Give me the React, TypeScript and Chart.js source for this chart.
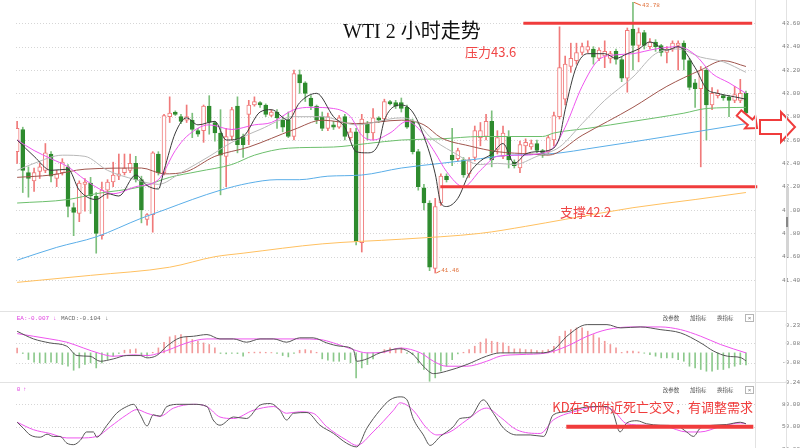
import { useEffect, useRef } from "react";
import { Chart, registerables } from "chart.js";

Chart.register(...registerables);

// ---------- candle data (2h bars) ----------
const opens = [
  42.50, 42.69, 42.32, 42.25, 42.33, 42.34, 42.48, 42.27, 42.32, 42.37,
  42.02, 41.97, 42.22, 42.23, 42.12, 41.78, 42.17, 42.24, 42.29, 42.32,
  42.34, 42.40, 42.26, 41.92, 41.96, 42.48, 42.32, 42.80, 42.84, 42.80,
  42.77, 42.77, 42.68, 42.68, 42.89, 42.75, 42.66, 42.46, 42.63, 42.89,
  42.63, 42.82, 42.90, 42.92, 42.90, 42.81, 42.84, 42.77, 42.77, 42.63,
  43.16, 43.09, 42.96, 42.89, 42.80, 42.70, 42.73, 42.71, 42.80, 42.62,
  42.67, 41.72, 42.74, 42.66, 42.79, 42.78, 42.93, 42.92, 42.92, 42.88,
  42.76, 42.50, 42.19, 42.06, 41.50, 42.06, 42.29, 42.47, 42.44, 42.43,
  42.31, 42.45, 42.62, 42.63, 42.76, 42.52, 42.46, 42.63, 42.41, 42.36,
  42.55, 42.54, 42.57, 42.51, 42.50, 42.60, 42.80, 42.95, 43.23, 43.28,
  43.35, 43.37, 43.38, 43.30, 43.32, 43.30, 43.36, 43.29, 43.13, 43.55,
  43.41, 43.52, 43.40, 43.44, 43.41, 43.35, 43.38, 43.41, 43.43, 43.28,
  43.09, 43.04, 43.20, 42.90, 42.98, 42.98, 42.97, 42.94, 42.94, 43.00,
];
const highs = [
  42.76, 42.71, 42.37, 42.36, 42.40, 42.57, 42.50, 42.34, 42.44, 42.39,
  42.06, 42.25, 42.27, 42.28, 42.15, 42.24, 42.26, 42.41, 42.48, 42.48,
  42.48, 42.46, 42.29, 41.97, 42.50, 42.50, 42.82, 42.97, 42.85, 42.82,
  42.90, 42.83, 42.70, 42.90, 42.98, 42.76, 42.86, 42.70, 42.88, 42.97,
  42.65, 42.94, 42.97, 42.93, 42.91, 42.86, 42.86, 42.80, 42.84, 43.20,
  43.20, 43.10, 42.98, 42.90, 42.84, 42.83, 42.76, 42.81, 42.82, 42.70,
  42.70, 42.82, 42.76, 42.87, 42.80, 42.95, 42.94, 42.94, 42.96, 42.90,
  42.78, 42.52, 42.22, 42.08, 42.10, 42.31, 42.31, 42.70, 42.53, 42.45,
  42.45, 42.72, 42.75, 42.82, 42.85, 42.68, 42.72, 42.68, 42.43, 42.59,
  42.61, 42.60, 42.60, 42.52, 42.64, 42.84, 43.57, 43.32, 43.43, 43.43,
  43.43, 43.45, 43.40, 43.39, 43.45, 43.36, 43.38, 43.31, 43.56, 43.78,
  43.56, 43.54, 43.47, 43.46, 43.42, 43.40, 43.45, 43.45, 43.45, 43.30,
  43.12, 43.23, 43.22, 43.05, 43.03, 42.99, 42.98, 43.06, 43.12, 43.02,
];
const lows = [
  42.40, 42.15, 42.11, 42.16, 42.27, 42.32, 42.24, 42.20, 42.30, 41.94,
  41.78, 41.90, 41.99, 41.97, 41.63, 41.75, 42.10, 42.20, 42.26, 42.30,
  42.32, 42.24, 41.89, 41.87, 41.81, 42.30, 42.30, 42.75, 42.81, 42.74,
  42.75, 42.62, 42.63, 42.58, 42.65, 42.59, 42.13, 42.20, 42.60, 42.49,
  42.45, 42.56, 42.89, 42.88, 42.80, 42.80, 42.70, 42.67, 42.62, 42.60,
  43.00, 42.93, 42.86, 42.74, 42.68, 42.68, 42.69, 42.70, 42.60, 42.60,
  41.70, 41.64, 42.60, 42.60, 42.75, 42.76, 42.90, 42.87, 42.84, 42.70,
  42.48, 42.17, 42.00, 41.48, 41.46, 42.04, 42.24, 42.38, 42.42, 42.28,
  42.28, 42.42, 42.55, 42.60, 42.37, 42.48, 42.44, 42.36, 42.36, 42.32,
  42.48, 42.52, 42.49, 42.45, 42.48, 42.55, 42.78, 42.90, 43.18, 43.25,
  43.33, 43.35, 43.25, 43.28, 43.22, 43.26, 43.25, 43.10, 43.01, 43.20,
  43.27, 43.38, 43.38, 43.36, 43.32, 43.26, 43.36, 43.20, 43.20, 43.03,
  42.88, 42.37, 42.60, 42.86, 42.96, 42.94, 42.80, 42.92, 42.92, 42.80,
];
const closes = [
  42.70, 42.34, 42.27, 42.32, 42.37, 42.49, 42.29, 42.31, 42.41, 42.03,
  41.98, 42.23, 42.24, 42.12, 41.80, 42.17, 42.24, 42.30, 42.31, 42.36,
  42.40, 42.26, 42.00, 41.96, 42.49, 42.32, 42.81, 42.83, 42.82, 42.76,
  42.80, 42.69, 42.65, 42.89, 42.75, 42.66, 42.47, 42.63, 42.86, 42.56,
  42.56, 42.90, 42.93, 42.90, 42.82, 42.84, 42.79, 42.71, 42.63, 43.17,
  43.09, 43.00, 42.89, 42.77, 42.70, 42.80, 42.71, 42.79, 42.63, 42.67,
  41.73, 42.78, 42.66, 42.79, 42.77, 42.93, 42.91, 42.89, 42.87, 42.71,
  42.50, 42.20, 42.06, 41.51, 42.03, 42.29, 42.26, 42.43, 42.51, 42.30,
  42.43, 42.68, 42.68, 42.76, 42.43, 42.62, 42.66, 42.43, 42.38, 42.56,
  42.58, 42.57, 42.51, 42.47, 42.62, 42.81, 43.22, 43.25, 43.30, 43.35,
  43.40, 43.40, 43.31, 43.37, 43.36, 43.34, 43.29, 43.13, 43.54, 43.41,
  43.52, 43.41, 43.44, 43.40, 43.35, 43.38, 43.43, 43.43, 43.29, 43.05,
  43.04, 43.20, 42.90, 43.00, 43.00, 42.96, 42.94, 42.99, 43.00, 42.83,
];

// ---------- moving averages: [bar index, price] ----------
const ma5: [number, number][] = [
  [0, 42.60], [3, 42.46], [6, 42.34], [9, 42.35], [11, 42.17], [14, 42.09], [16, 42.14], [18, 42.12],
  [21, 42.30], [23, 42.21], [25, 42.18], [26, 42.34], [28, 42.66], [30, 42.79], [32, 42.73], [35, 42.76],
  [37, 42.60], [40, 42.63], [43, 42.84], [45, 42.86], [48, 42.77], [50, 42.92], [53, 43.00], [56, 42.80],
  [58, 42.71], [60, 42.50], [62, 42.49], [64, 42.57], [65, 42.77], [68, 42.90], [70, 42.84], [72, 42.63],
  [74, 42.31], [75, 42.06], [76, 42.03], [78, 42.10], [80, 42.31], [82, 42.42], [84, 42.48], [86, 42.57],
  [88, 42.40], [90, 42.48], [92, 42.50], [94, 42.51], [96, 42.62], [97, 42.86], [99, 43.23], [101, 43.34],
  [104, 43.34], [106, 43.30], [108, 43.34], [110, 43.38], [112, 43.44], [115, 43.37], [117, 43.40],
  [120, 43.22], [122, 43.04], [124, 43.00], [127, 42.97], [129, 42.95],
];
const ma10: [number, number][] = [
  [0, 42.60], [3, 42.51], [6, 42.44], [9, 42.37], [12, 42.26], [15, 42.17], [17, 42.14], [21, 42.20],
  [25, 42.26], [28, 42.51], [30, 42.63], [34, 42.73], [38, 42.69], [42, 42.73], [45, 42.75], [49, 42.86],
  [52, 42.88], [56, 42.87], [59, 42.80], [61, 42.64], [63, 42.60], [66, 42.66], [69, 42.76], [71, 42.70],
  [74, 42.49], [76, 42.33], [79, 42.20], [82, 42.34], [85, 42.46], [89, 42.47], [92, 42.48], [95, 42.54],
  [97, 42.71], [100, 43.06], [103, 43.29], [106, 43.33], [109, 43.34], [113, 43.38], [117, 43.40],
  [120, 43.33], [123, 43.17], [126, 43.09], [129, 43.00],
];
const ma20: [number, number][] = [
  [0, 42.34], [3, 42.40], [8, 42.47], [12, 42.46], [16, 42.34], [21, 42.26], [25, 42.22], [29, 42.32],
  [34, 42.46], [38, 42.58], [43, 42.69], [49, 42.80], [54, 42.80], [60, 42.73], [68, 42.79], [71, 42.74],
  [73, 42.63], [77, 42.50], [82, 42.39], [85, 42.40], [88, 42.39], [92, 42.46], [96, 42.54], [100, 42.74],
  [104, 42.94], [109, 43.14], [113, 43.34], [117, 43.38], [121, 43.31], [125, 43.27], [129, 43.18],
];
const ma30: [number, number][] = [
  [0, 42.28], [6, 42.30], [12, 42.35], [22, 42.36], [26, 42.31], [30, 42.33], [35, 42.46], [41, 42.54],
  [49, 42.69], [54, 42.77], [60, 42.74], [68, 42.77], [72, 42.73], [75, 42.62], [80, 42.55], [85, 42.50],
  [91, 42.48], [94, 42.47], [100, 42.64], [109, 42.88], [115, 43.06], [121, 43.20], [125, 43.28], [129, 43.23],
];
const ma60: [number, number][] = [
  [0, 42.06], [9, 42.09], [14, 42.14], [22, 42.20], [27, 42.28], [32, 42.33], [38, 42.39], [42, 42.47],
  [48, 42.53], [56, 42.54], [62, 42.57], [68, 42.60], [75, 42.61], [82, 42.63], [93, 42.63], [95, 42.66],
  [101, 42.70], [109, 42.76], [113, 42.79], [118, 42.83], [122, 42.87], [129, 42.88],
];
const ma120: [number, number][] = [
  [0, 41.57], [7, 41.68], [14, 41.77], [22, 41.93], [26, 42.00], [31, 42.09], [36, 42.17], [41, 42.23],
  [46, 42.26], [50, 42.26], [55, 42.29], [61, 42.30], [68, 42.36], [75, 42.40], [82, 42.44], [87, 42.47],
  [94, 42.48], [103, 42.54], [115, 42.63], [129, 42.74],
];
const ma250: [number, number][] = [
  [0, 41.38], [13, 41.44], [27, 41.51], [35, 41.60], [40, 41.63], [54, 41.71], [68, 41.75], [82, 41.80],
  [90, 41.86], [97, 41.92], [109, 42.02], [120, 42.09], [129, 42.15],
];

// ---------- MACD ----------
const macdHist = [
  0.04, -0.005, -0.055, -0.077, -0.082, -0.082, -0.077, -0.082, -0.096, -0.11,
  -0.143, -0.124, -0.096, -0.082, -0.124, -0.082, -0.055, -0.027, -0.005, 0.022,
  0.027, 0.033, -0.022, -0.027, 0.005, 0.041, 0.088, 0.132, 0.143, 0.151,
  0.137, 0.11, 0.096, 0.082, 0.069, 0.041, -0.005, -0.008, -0.004, -0.006,
  -0.027, 0.005, 0.006, 0.006, 0.005, 0.003, -0.005, -0.022, -0.033, -0.004,
  0.022, 0.027, 0.019, 0.005, -0.049, -0.06, -0.069, -0.069, -0.055, -0.082,
  -0.206, -0.124, -0.096, -0.049, -0.004, 0.027, 0.041, 0.033, 0.041, -0.004,
  -0.014, -0.082, -0.137, -0.234, -0.206, -0.151, -0.11, -0.055, -0.008, 0.005,
  0.027, 0.055, 0.088, 0.115, 0.096, 0.088, 0.082, 0.055, 0.033, 0.033,
  0.027, 0.027, 0.019, 0.019, 0.027, 0.055, 0.137, 0.179, 0.192, 0.206,
  0.206, 0.179, 0.151, 0.124, 0.096, 0.069, 0.041, 0.004, 0.014, 0.014,
  0.008, -0.003, -0.014, -0.027, -0.041, -0.041, -0.041, -0.055, -0.069, -0.11,
  -0.124, -0.137, -0.151, -0.151, -0.137, -0.137, -0.124, -0.11, -0.096, -0.1,
];
const difLine: [number, number][] = [
  [0, 0.178], [2.9, 0.115], [5.8, 0.082], [8.8, 0.055], [10.6, -0.022], [12.9, -0.028], [14.7, -0.069],
  [17, -0.05], [19.4, -0.022], [21.8, -0.022], [23, -0.041], [24.7, -0.022], [26.5, 0.055], [28.8, 0.124],
  [31.2, 0.137], [33.6, 0.151], [35.9, 0.115], [38.3, 0.115], [40.6, 0.088], [43, 0.115], [45.4, 0.115],
  [47.7, 0.088], [50, 0.124], [52.4, 0.124], [54.8, 0.082], [57.2, 0.055], [59.5, 0.027], [60.1, -0.069],
  [61.9, -0.05], [64.2, 0], [67.8, 0.034], [70.1, -0.014], [71.9, -0.11], [73.7, -0.171], [76, -0.151],
  [79.6, -0.096], [83.1, -0.027], [85.5, 0], [89, 0], [92.6, 0], [95, 0.027], [97.3, 0.137], [100.9, 0.233],
  [104.4, 0.233], [106.8, 0.206], [110.3, 0.214], [113.8, 0.192], [117.4, 0.165], [121, 0.082],
  [123.3, 0.014], [125.7, -0.027], [128, -0.038], [129, -0.065],
];
const deaLine: [number, number][] = [
  [0, 0.159], [2.9, 0.137], [5.8, 0.115], [8.8, 0.088], [11.7, 0.041], [14.7, -0.006], [17, -0.028],
  [20.6, -0.016], [23, -0.022], [25.3, 0], [27.7, 0.041], [30, 0.082], [33.6, 0.115], [38.3, 0.115],
  [44.2, 0.115], [50, 0.115], [53.6, 0.11], [56, 0.082], [59.5, 0.027], [61.9, 0], [64.8, 0.005],
  [67.8, 0.04], [71.4, 0], [73.7, -0.069], [76, -0.11], [79.6, -0.11], [83.1, -0.069], [85.5, -0.027],
  [89, -0.014], [93.8, 0], [97.3, 0.055], [100.9, 0.137], [104.4, 0.192], [109, 0.214], [113.8, 0.214],
  [117.4, 0.192], [121, 0.137], [124.5, 0.069], [129, 0],
];

// ---------- KD ----------
const kLine: [number, number][] = [
  [0, 56], [1.1, 48], [2.3, 39], [4.1, 36], [5.3, 40], [6.4, 37], [7.6, 37], [8.8, 28], [10, 26],
  [11.2, 32], [12.3, 43], [13.5, 43], [14.1, 36], [15.9, 52], [17.6, 68], [19.4, 77], [20.6, 80],
  [21.8, 66], [23, 51], [24.1, 66], [25.3, 64], [26.5, 77], [28.8, 80], [31.2, 80], [33.6, 77],
  [34.7, 59], [35.9, 52], [38.3, 63], [40.6, 61], [43, 79], [44.8, 81], [46.5, 72], [47.7, 59],
  [48.9, 68], [51.3, 69], [53.6, 52], [56, 41], [58.3, 28], [60.1, 23], [61.9, 48], [64.2, 72],
  [66, 86], [67.8, 90], [69, 86], [70.1, 61], [71.9, 39], [73.1, 25], [74.9, 37], [77.2, 50],
  [78.4, 61], [80.2, 63], [82.5, 86], [84.3, 68], [86.1, 48], [88.4, 39], [90.8, 39], [93.2, 37],
  [94.9, 66], [97.3, 70], [99.7, 75], [102, 77], [104.4, 77], [105.5, 68], [106.7, 43], [107.9, 55],
  [109.7, 58], [111.4, 54], [113.8, 52], [116.8, 51], [118.5, 43], [119.7, 37], [120.9, 48],
  [123.2, 52], [125.6, 53], [128, 56], [129, 54],
];
const dLine: [number, number][] = [
  [0, 56], [2.9, 46], [5.8, 41], [8.8, 35], [11.2, 35], [14.1, 37], [16.5, 50], [19.4, 66], [21.2, 73],
  [23, 68], [25.3, 64], [27.7, 75], [31.2, 80], [33.6, 77], [35.9, 63], [38.3, 61], [41.8, 72],
  [45.4, 77], [47.7, 68], [50, 70], [52.4, 68], [54.8, 50], [58.3, 32], [60.1, 25], [63, 43],
  [66.6, 72], [67.8, 82], [70.1, 72], [72.5, 48], [74.3, 39], [76.6, 43], [79.6, 59], [83.1, 75],
  [85.5, 63], [88.4, 46], [92.6, 41], [94.9, 59], [98.5, 70], [103.2, 77], [105.5, 72], [107.9, 54],
  [111.4, 52], [115, 50], [118.5, 43], [120.9, 43], [124.4, 50], [128, 55], [129, 54],
];

// ---------- axes & annotations ----------
const priceTicks = [43.6, 43.4, 43.2, 43.0, 42.8, 42.6, 42.4, 42.2, 42.0, 41.8, 41.6, 41.4];
const macdTicks = [0.23, 0.08, -0.08, -0.24];
const macdGrid = [0.08, -0.08];
const kdTicks = [80, 50, 20];
const kdGrid = [80, 50];

const resistance = 43.6;
const resistanceSpan = [89.6, 130.1];
const support = 42.2;
const supportSpan = [74.9, 131.0];
const kdLevel = 50;
const kdLevelSpan = [97.2, 130.3];
const kdNote = "KD在50附近死亡交叉，有调整需求";
const title = "WTI 2 小时走势";
const macdHeaderDea = "EA:-0.007";
const macdHeaderMacd = "MACD:-0.104";
const kdHeader = "0";
const buttons = ["改参数", "加指标", "换指标"];

// ---------- styles ----------
const UP = "#f07a7a";
const DOWN = "#2e8b2e";
const DOWN_WICK = "#7cbf7c";
const RED = "#f03c3c";
const AXIS_FONT = '"Liberation Mono", "DejaVu Sans Mono", monospace';
const CJK = '"Noto Sans CJK SC", "Noto Sans", sans-serif';

const X_MIN = -0.2;
const X_MAX = 130.6;

const xScale = { type: "linear", min: X_MIN, max: X_MAX, offset: false, display: false };

function yAxis(min: number, max: number, ticks: number[], digits: number) {
  return {
    position: "right",
    min,
    max,
    offset: false,
    grid: { display: false },
    border: { display: false },
    ticks: {
      color: "#777",
      font: { family: AXIS_FONT, size: 6 },
      padding: 7,
      crossAlign: "far",
      autoSkip: false,
      callback: (v: any) => Number(v).toFixed(digits),
    },
    afterBuildTicks: (ax: any) => {
      ax.ticks = ticks.map((v) => ({ value: v }));
    },
    afterFit: (ax: any) => {
      ax.width = 45;
      ax.paddingTop = 0;
      ax.paddingBottom = 0;
    },
  };
}

const dottedGrid = (values: number[]) => ({
  id: "dottedGrid",
  beforeDatasetsDraw(chart: any) {
    const { ctx, chartArea, scales } = chart;
    const y = scales.y;
    ctx.save();
    ctx.strokeStyle = "#d6d6d6";
    ctx.lineWidth = 1;
    ctx.setLineDash([1, 2]);
    values.forEach((v) => {
      const py = Math.round(y.getPixelForValue(v)) + 0.5;
      if (py < chartArea.top || py > chartArea.bottom) return;
      ctx.beginPath();
      ctx.moveTo(chartArea.left, py);
      ctx.lineTo(chartArea.right, py);
      ctx.stroke();
    });
    ctx.restore();
  },
});

const lineDs = (pts: [number, number][], color: string, width = 1) => ({
  type: "line",
  data: pts.map(([x, y]) => ({ x, y })),
  borderColor: color,
  borderWidth: width,
  pointRadius: 0,
  fill: false,
  cubicInterpolationMode: "monotone",
  order: 0,
});

function blockArrow(ctx: any, x0: number, y0: number, len: number, angle: number, shaftHalf: number, headHalf: number, headLen: number) {
  ctx.save();
  ctx.translate(x0, y0);
  ctx.rotate(angle);
  ctx.beginPath();
  ctx.moveTo(0, -shaftHalf);
  ctx.lineTo(len - headLen, -shaftHalf);
  ctx.lineTo(len - headLen, -headHalf);
  ctx.lineTo(len, 0);
  ctx.lineTo(len - headLen, headHalf);
  ctx.lineTo(len - headLen, shaftHalf);
  ctx.lineTo(0, shaftHalf);
  ctx.closePath();
  ctx.fillStyle = "#ffffff";
  ctx.fill();
  ctx.strokeStyle = RED;
  ctx.lineWidth = 2;
  ctx.lineJoin = "miter";
  ctx.stroke();
  ctx.restore();
}

function drawButtons(ctx: any, cy: number) {
  ctx.save();
  ctx.font = `5.5px ${CJK}`;
  ctx.fillStyle = "#555";
  ctx.textBaseline = "middle";
  ctx.textAlign = "left";
  const xs = [662.7, 690, 717];
  buttons.forEach((b, k) => ctx.fillText(b, xs[k], cy));
  ctx.strokeStyle = "#b5b5b5";
  ctx.lineWidth = 1;
  ctx.strokeRect(745.5, cy - 3.5, 8, 7);
  ctx.font = `6px ${AXIS_FONT}`;
  ctx.fillStyle = "#777";
  ctx.textAlign = "center";
  ctx.fillText("×", 749.5, cy);
  ctx.restore();
}

const mainAnno = {
  id: "mainAnno",
  afterDraw(chart: any) {
    const { ctx, scales } = chart;
    const x = scales.x;
    const y = scales.y;
    ctx.save();
    // support / resistance levels
    [
      [resistance, resistanceSpan],
      [support, supportSpan],
    ].forEach(([p, span]: any) => {
      const py = y.getPixelForValue(p);
      ctx.strokeStyle = RED;
      ctx.lineWidth = 3;
      ctx.beginPath();
      ctx.moveTo(x.getPixelForValue(span[0]), py);
      ctx.lineTo(x.getPixelForValue(span[1]), py);
      ctx.stroke();
    });
    ctx.font = `13px ${CJK}`;
    ctx.fillStyle = "#f04646";
    ctx.textBaseline = "middle";
    ctx.textAlign = "left";
    ctx.fillText(`压力${resistance}`, 465, 52);
    ctx.fillText(`支撑${support}`, 560, 212);

    // title
    ctx.font = `20px "Liberation Serif", ${CJK}`;
    ctx.fillStyle = "#111";
    ctx.fillText(title, 343, 33);

    // extreme markers
    const hi = Math.max(...highs);
    const lo = Math.min(...lows);
    const hiIdx = highs.indexOf(hi);
    const loIdx = lows.indexOf(lo);
    ctx.strokeStyle = "#e0703a";
    ctx.fillStyle = "#e0703a";
    ctx.lineWidth = 1;
    ctx.font = `6px ${AXIS_FONT}`;
    const hx = x.getPixelForValue(hiIdx);
    const hy = y.getPixelForValue(hi);
    ctx.beginPath();
    ctx.moveTo(hx + 1, hy);
    ctx.lineTo(hx + 8, hy + 3);
    ctx.stroke();
    ctx.fillText(hi.toFixed(2), hx + 9, hy + 3.5);
    const lx = x.getPixelForValue(loIdx);
    const ly = y.getPixelForValue(lo);
    ctx.beginPath();
    ctx.moveTo(lx + 1, ly);
    ctx.lineTo(lx + 5, ly - 2);
    ctx.stroke();
    ctx.fillText(lo.toFixed(2), lx + 6, ly - 2.5);

    // direction arrows
    blockArrow(ctx, 739, 113, 23.5, Math.atan2(15, 18), 3.5, 8, 9);
    blockArrow(ctx, 760, 127, 35, 0, 7, 15, 14);
    ctx.restore();
  },
};

const macdAnno = {
  id: "macdAnno",
  afterDraw(chart: any) {
    const { ctx } = chart;
    ctx.save();
    ctx.font = `6px ${AXIS_FONT}`;
    ctx.textBaseline = "middle";
    ctx.textAlign = "left";
    ctx.fillStyle = "#e040e0";
    ctx.fillText(macdHeaderDea, 16.7, 18);
    ctx.fillText("↓", 53, 18);
    ctx.fillStyle = "#666";
    ctx.fillText(macdHeaderMacd, 61, 18);
    ctx.fillText("↓", 105, 18);
    ctx.restore();
    drawButtons(ctx, 18);
  },
};

const kdAnno = {
  id: "kdAnno",
  afterDraw(chart: any) {
    const { ctx, scales } = chart;
    const x = scales.x;
    const y = scales.y;
    ctx.save();
    ctx.font = `6px ${AXIS_FONT}`;
    ctx.textBaseline = "middle";
    ctx.textAlign = "left";
    ctx.fillStyle = "#e040e0";
    ctx.fillText(kdHeader, 16.7, 6);
    ctx.fillText("↑", 23, 6);
    // level line
    const py = y.getPixelForValue(kdLevel);
    ctx.strokeStyle = RED;
    ctx.lineWidth = 4;
    ctx.beginPath();
    ctx.moveTo(x.getPixelForValue(kdLevelSpan[0]), py);
    ctx.lineTo(x.getPixelForValue(kdLevelSpan[1]), py);
    ctx.stroke();
    // note
    ctx.font = `13px ${CJK}`;
    ctx.fillStyle = "#f03c3c";
    ctx.textAlign = "right";
    ctx.fillText(kdNote, 753, 24);
    ctx.restore();
    drawButtons(ctx, 7);
  },
};

export default function App() {
  const mainRef = useRef<HTMLCanvasElement>(null);
  const macdRef = useRef<HTMLCanvasElement>(null);
  const kdRef = useRef<HTMLCanvasElement>(null);

  useEffect(() => {
    const idx = opens.map((_, i) => i);
    const up = (i: number) => closes[i] >= opens[i];
    const baseOpts = {
      responsive: false,
      animation: false,
      devicePixelRatio: 1,
      events: [],
      plugins: { legend: { display: false }, tooltip: { enabled: false } },
    };

    const main = new Chart(mainRef.current as HTMLCanvasElement, {
      type: "bar",
      data: {
        datasets: [
          lineDs(ma5, "#3a3a3a"),
          lineDs(ma10, "#ee55ee"),
          lineDs(ma20, "#b8b8b8"),
          lineDs(ma30, "#a0554d"),
          lineDs(ma60, "#6cbf6c"),
          lineDs(ma120, "#5aaee8"),
          lineDs(ma250, "#ffc060"),
          {
            type: "bar",
            data: idx.map((i) => ({ x: i, y: [opens[i], closes[i]] })),
            backgroundColor: idx.map((i) => (up(i) ? "#ffffff" : DOWN)),
            borderColor: idx.map((i) => (up(i) ? UP : DOWN)),
            borderWidth: 1,
            borderSkipped: false,
            barThickness: 4,
            minBarLength: 1,
            grouped: false,
            order: 1,
          },
          {
            type: "bar",
            data: idx.map((i) => ({ x: i, y: [lows[i], highs[i]] })),
            backgroundColor: idx.map((i) => (up(i) ? UP : DOWN_WICK)),
            borderWidth: 0,
            barThickness: 1,
            minBarLength: 1,
            grouped: false,
            order: 2,
          },
        ],
      },
      options: {
        ...baseOpts,
        layout: { padding: { left: 16, right: 0, top: 0, bottom: 0 } },
        scales: { x: xScale, y: yAxis(41.186, 43.8, priceTicks, 2) },
      },
      plugins: [dottedGrid(priceTicks), mainAnno],
    } as any);

    const macd = new Chart(macdRef.current as HTMLCanvasElement, {
      type: "bar",
      data: {
        datasets: [
          lineDs(difLine, "#555555"),
          lineDs(deaLine, "#ee55ee"),
          {
            type: "bar",
            data: macdHist.map((v, i) => ({ x: i, y: v })),
            backgroundColor: macdHist.map((v) => (v >= 0 ? "#f29a9a" : "#8cc98c")),
            borderWidth: 0,
            barThickness: 1,
            grouped: false,
            order: 1,
          },
        ],
      },
      options: {
        ...baseOpts,
        layout: { padding: { left: 16, right: 0, top: 12, bottom: 2 } },
        scales: { x: xScale, y: yAxis(-0.24, 0.337, macdTicks, 2) },
      },
      plugins: [dottedGrid(macdGrid), macdAnno],
    } as any);

    const kd = new Chart(kdRef.current as HTMLCanvasElement, {
      type: "line",
      data: {
        datasets: [lineDs(kLine, "#555555"), lineDs(dLine, "#ee55ee")],
      },
      options: {
        ...baseOpts,
        layout: { padding: { left: 16, right: 0, top: 1, bottom: 2 } },
        scales: { x: xScale, y: yAxis(17.5, 107.2, kdTicks, 2) },
      },
      plugins: [dottedGrid(kdGrid), kdAnno],
    } as any);

    return () => {
      main.destroy();
      macd.destroy();
      kd.destroy();
    };
  }, []);

  const line = (style: any) => <div style={{ position: "absolute", background: "#e2e2e2", ...style }} />;

  return (
    <div
      style={{
        position: "fixed",
        left: 0,
        top: 0,
        width: 800,
        height: 448,
        background: "#ffffff",
        overflow: "hidden",
      }}
    >
      <canvas ref={mainRef} width={800} height={305} style={{ position: "absolute", left: 0, top: 0 }} />
      <canvas ref={macdRef} width={800} height={84} style={{ position: "absolute", left: 0, top: 300 }} />
      <canvas ref={kdRef} width={800} height={70} style={{ position: "absolute", left: 0, top: 383 }} />
      {line({ left: 755, top: 0, width: 1, height: 448 })}
      {line({ left: 786, top: 0, width: 1, height: 448 })}
      {line({ left: 0, top: 311, width: 787, height: 1 })}
      {line({ left: 0, top: 382, width: 787, height: 1 })}
      {line({ left: 786, top: 187, width: 3, height: 70, background: "#d4d4d4" })}
      {line({ left: 786, top: 217, width: 2, height: 10, background: "#888888" })}
    </div>
  );
}
